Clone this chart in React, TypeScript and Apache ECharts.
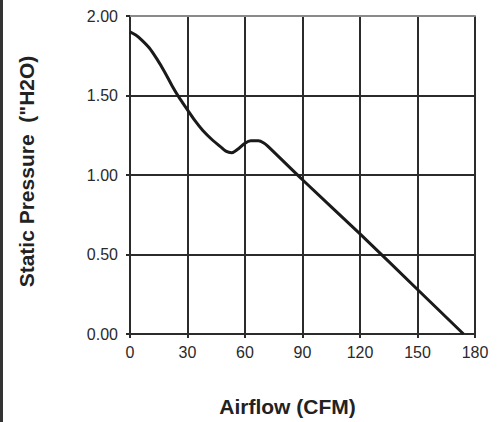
import React, { useEffect, useRef } from "react";
import * as echarts from "echarts";

const airflow = [0, 3, 6, 10, 14, 18, 22, 26, 30, 34, 38, 43, 47, 50, 53, 56, 60, 63, 67, 70, 72, 90, 120, 150, 174];
const pressure = [1.9, 1.88, 1.85, 1.8, 1.73, 1.65, 1.56, 1.48, 1.41, 1.34, 1.28, 1.22, 1.18, 1.15, 1.14, 1.16, 1.2, 1.215, 1.215, 1.2, 1.18, 0.97, 0.63, 0.28, 0];
const xTicks = [0, 30, 60, 90, 120, 150, 180];
const yTicks = [0, 0.5, 1.0, 1.5, 2.0];

export default function App() {
  const ref = useRef<HTMLDivElement>(null);
  useEffect(() => {
    document.body.style.margin = "0";
    const chart = echarts.init(ref.current!, null, { renderer: "svg" });
    const dark = "#2b2b2b";
    chart.setOption({
      animation: false,
      backgroundColor: "#ffffff",
      grid: { left: 130, right: 26, top: 16, bottom: 86 },
      graphic: [
        { type: "rect", left: 0, top: 0, shape: { width: 3, height: 422 }, style: { fill: "#333" } },
      ],
      xAxis: [
        {
          type: "value",
          min: xTicks[0],
          max: xTicks[xTicks.length - 1],
          interval: 30,
          name: "Airflow (CFM)",
          nameLocation: "middle",
          nameGap: 62,
          nameTextStyle: { fontFamily: "Liberation Sans", fontWeight: "bold", fontSize: 21, color: "#222", padding: [0, 30, 0, 0] },
          axisLine: { show: true, lineStyle: { color: dark, width: 2 } },
          axisTick: { show: true, length: 4, lineStyle: { color: dark, width: 2 } },
          axisLabel: { fontFamily: "Liberation Sans", fontSize: 16, color: "#2a2a2a", margin: 10 },
          splitLine: { show: true, lineStyle: { color: dark, width: 2 } },
        },
        {
          type: "value",
          position: "top",
          min: 0,
          max: 180,
          axisLine: { show: true, lineStyle: { color: "#8a8a8a", width: 2 } },
          axisTick: { show: false },
          axisLabel: { show: false },
          splitLine: { show: false },
        },
      ],
      yAxis: {
        type: "value",
        min: yTicks[0],
        max: yTicks[yTicks.length - 1],
        interval: 0.5,
        name: "Static Pressure  (\"H2O)",
        nameLocation: "middle",
        nameGap: 93,
        nameTextStyle: { fontFamily: "Liberation Sans", fontWeight: "bold", fontSize: 21, color: "#222", padding: [0, 0, 0, 7] },
        axisLine: { show: true, lineStyle: { color: dark, width: 2 } },
        axisTick: { show: true, length: 4, lineStyle: { color: dark, width: 2 } },
        axisLabel: { fontFamily: "Liberation Sans", fontSize: 16, color: "#2a2a2a", margin: 12, formatter: (v: number) => v.toFixed(2) },
        splitLine: { show: true, showMaxLine: false, lineStyle: { color: dark, width: 2 } },
      },
      series: [
        {
          type: "line",
          data: airflow.map((x, i) => [x, pressure[i]]),
          smooth: 0.3,
          showSymbol: false,
          lineStyle: { color: "#1a1a1a", width: 3 },
          z: 5,
        },
      ],
    });
    return () => chart.dispose();
  }, []);
  return <div ref={ref} style={{ width: 501, height: 422 }} />;
}
